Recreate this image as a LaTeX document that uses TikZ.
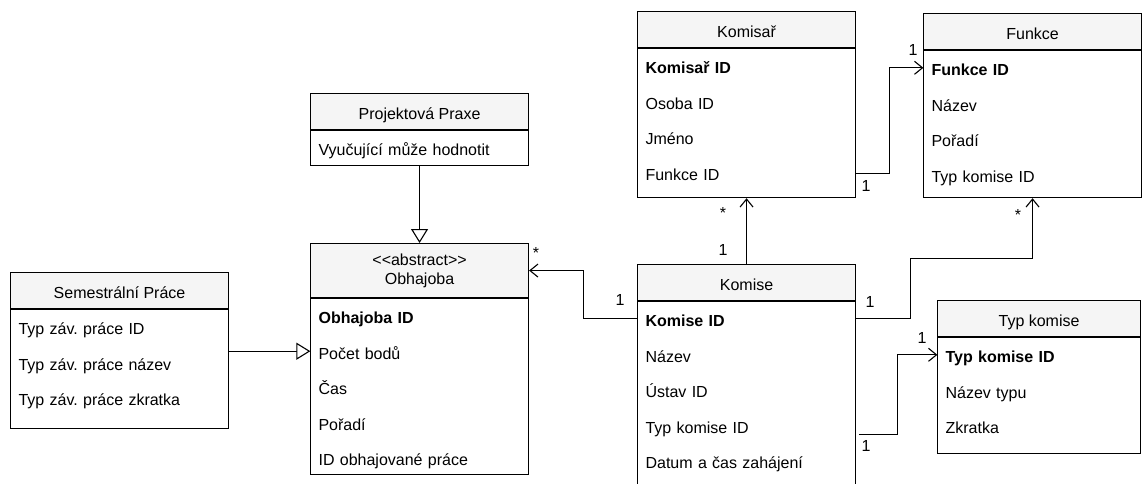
\documentclass[tikz,border=0pt]{standalone}
\usepackage{fontspec}
\setmainfont{Liberation Sans}
\frenchspacing
\usetikzlibrary{arrows.meta,positioning}
\tikzset{
  basic/.style   = {draw, line width=1.1pt, inner sep=0pt},
  head/.style    = {basic, fill=black!4, minimum width=218pt, minimum height=36pt, align=center},
  title/.style   = {head, text height=17pt, text depth=1pt},
  body/.style    = {basic, fill=white, minimum width=218pt},
  attr/.style    = {inner xsep=8pt, inner ysep=0pt, text width=202pt, align=left,
                    minimum height=35pt, text height=17pt, text depth=1pt},
  mult/.style    = {inner sep=0pt, font=\fontsize{16}{19}\selectfont},
  assoc/.style   = {line width=1.1pt, -{Straight Barb[length=8pt, width=13pt]}},
  inherit/.style = {line width=1.1pt, -{Triangle[open, length=14pt, width=17pt, fill=white]}}
}
\begin{document}
\begin{tikzpicture}[x=1pt, y=-1pt, font=\fontsize{16}{19.2}\selectfont]
    \useasboundingbox (0,0) rectangle (1148,483);
    \clip (0,0) rectangle (1148,483);

    % Semestralni prace
    \node[title, anchor=north west] (sem) at (10,272) {Semestrální Práce};
    \node[body, minimum height=119pt, below=0pt of sem] (semB) {};
    \node[attr, below=0pt of sem] (s1) {Typ záv. práce ID};
    \node[attr, below=0pt of s1] (s2) {Typ záv. práce název};
    \node[attr, below=0pt of s2] (s3) {Typ záv. práce zkratka};

    % Projektova praxe
    \node[title, anchor=north west] (proj) at (310,93) {Projektová Praxe};
    \node[body, minimum height=35pt, below=0pt of proj] (projB) {};
    \node[attr, below=0pt of proj] (p1) {Vyučující může hodnotit};

    % Obhajoba, abstract parent
    \node[head, anchor=north west, minimum height=54pt] (obh) at (310,243) {<\kern0pt<abstract>\kern0pt>\\Obhajoba};
    \node[body, minimum height=176pt, below=0pt of obh] (obhB) {};
    \node[attr, below=0pt of obh] (o1) {\textbf{Obhajoba ID}};
    \node[attr, below=0pt of o1] (o2) {Počet bodů};
    \node[attr, below=0pt of o2] (o3) {Čas};
    \node[attr, below=0pt of o3] (o4) {Pořadí};
    \node[attr, below=0pt of o4] (o5) {ID obhajované práce};

    % Komisar
    \node[title, anchor=north west] (komisar) at (637,11) {Komisař};
    \node[body, minimum height=149pt, below=0pt of komisar] (komisarB) {};
    \node[attr, below=0pt of komisar] (ka1) {\textbf{Komisař ID}};
    \node[attr, below=0pt of ka1] (ka2) {Osoba ID};
    \node[attr, below=0pt of ka2] (ka3) {Jméno};
    \node[attr, below=0pt of ka3] (ka4) {Funkce ID};

    % Funkce
    \node[title, anchor=north west] (funkce) at (923,13) {Funkce};
    \node[body, minimum height=147pt, below=0pt of funkce] (funkceB) {};
    \node[attr, below=0pt of funkce] (fu1) {\textbf{Funkce ID}};
    \node[attr, below=0pt of fu1] (fu2) {Název};
    \node[attr, below=0pt of fu2] (fu3) {Pořadí};
    \node[attr, below=0pt of fu3] (fu4) {Typ komise ID};

    % Komise
    \node[title, anchor=north west] (komise) at (637,264) {Komise};
    \node[body, minimum height=230pt, below=0pt of komise] (komiseB) {};
    \node[attr, below=0pt of komise] (ks1) {\textbf{Komise ID}};
    \node[attr, below=0pt of ks1] (ks2) {Název};
    \node[attr, below=0pt of ks2] (ks3) {Ústav ID};
    \node[attr, below=0pt of ks3] (ks4) {Typ komise ID};
    \node[attr, below=0pt of ks4] (ks5) {Datum a čas zahájení};

    % Typ komise
    \node[title, anchor=north west, minimum width=203pt] (typ) at (937,300) {Typ komise};
    \node[body, minimum width=203pt, minimum height=116pt, below=0pt of typ] (typB) {};
    \node[attr, text width=187pt, below=0pt of typ] (tk1) {\textbf{Typ komise ID}};
    \node[attr, text width=187pt, below=0pt of tk1] (tk2) {Název typu};
    \node[attr, text width=187pt, below=0pt of tk2] (tk3) {Zkratka};

    % generalisation
    \draw[inherit] (o2.west -| semB.east) -- (o2.west);
    \draw[inherit] (projB.south) -- (obh.north);

    % associations
    \draw[assoc] (ks1.west) -- ++(-54,0) |- (obh.east);
    \draw[assoc] (komise.north) -- (komisarB.south);
    \draw[assoc] ([yshift=-1.5pt]ka4.east) -- ++(34,0) |- (fu1.west);
    \draw[assoc] (ks1.east) -- ++(55,0) |- ([yshift=-60pt]funkceB.south) -- (funkceB.south);
    \draw[assoc] ([shift={(3pt,-9.5pt)}]ks4.east) -- ++(39,0) |- (tk1.west);

    % multiplicities
    \node[mult] (m1) at (620,300) {1};
    \node[mult] (m2) at (536,253) {*};
    \node[mult] (m3) at (723,250) {1};
    \node[mult] (m4) at (723,213) {*};
    \node[mult] (m5) at (866,186) {1};
    \node[mult] (m6) at (913,50) {1};
    \node[mult] (m7) at (870,302) {1};
    \node[mult] (m8) at (1018,215) {*};
    \node[mult] (m9) at (866,446) {1};
    \node[mult] (m10) at (922,338) {1};
\end{tikzpicture}
\end{document}
